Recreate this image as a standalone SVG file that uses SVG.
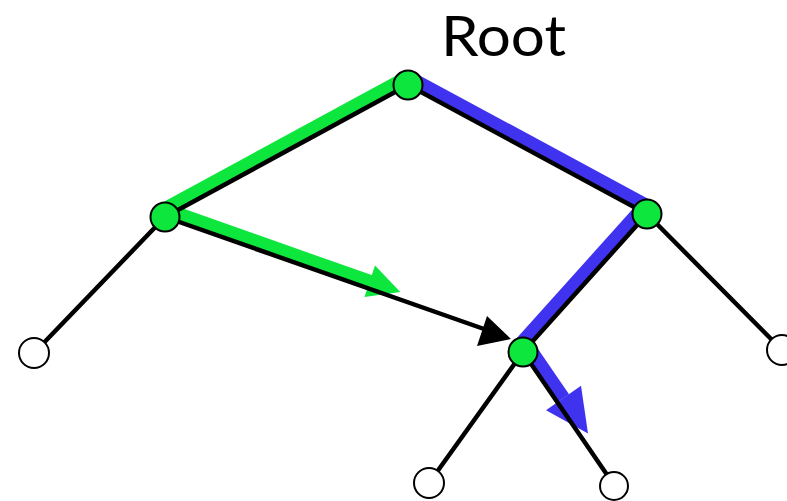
<svg xmlns="http://www.w3.org/2000/svg" width="787" height="501" viewBox="0 0 787 501">
<style>
.edge{stroke:#000;stroke-width:4.5;fill:none;stroke-linecap:round}
.green{stroke:#0de63c;stroke-width:13;fill:none;stroke-linejoin:round}
.blue{stroke:#3f33f0;stroke-width:13;fill:none;stroke-linejoin:round}
.inner{fill:#0de63c;stroke:#000;stroke-width:2}
.leaf{fill:#fff;stroke:#000;stroke-width:2}
.label{font-family:Lato,"Liberation Sans",sans-serif;font-size:57px;fill:#000}
</style>
<rect width="787" height="501" fill="#fff"/>
<g id="connectors">
  <polyline class="green" points="161.5,210.4 404.5,78.4"/>
  <polyline class="blue" points="411.5,78.4 645.4,204.7 517.4,347"/>
  <line class="green" x1="167.5" y1="210" x2="370.2" y2="281.5"/>
  <polygon fill="#0de63c" points="400.3,292 375,265.5 364.5,297"/>
  <line class="blue" x1="529.2" y1="347.8" x2="563.7" y2="398"/>
  <polygon fill="#3f33f0" points="588,433.6 581,385.8 546,410.2"/>
  <line class="edge" x1="408" y1="85" x2="165" y2="217"/>
  <line class="edge" x1="408" y1="85" x2="647" y2="214"/>
  <line class="edge" x1="165" y1="217" x2="34" y2="353"/>
  <line class="edge" x1="647" y1="214" x2="782" y2="350"/>
  <line class="edge" x1="647" y1="214" x2="523" y2="352"/>
  <line class="edge" x1="523" y1="352" x2="429" y2="483"/>
  <line class="edge" x1="523" y1="352" x2="614" y2="485"/>
  <line class="edge" x1="165" y1="217" x2="484" y2="329"/>
  <polygon fill="#000" points="511,339 487,316 477,346"/>
</g>
<g id="node-root"><circle class="inner" cx="408" cy="85" r="14.5"/><text class="label" x="441" y="56" textLength="125" lengthAdjust="spacingAndGlyphs">Root</text></g>
<g id="node-left"><circle class="inner" cx="165" cy="217" r="14.5"/></g>
<g id="node-right"><circle class="inner" cx="647" cy="214" r="14.5"/></g>
<g id="node-mid"><circle class="inner" cx="523" cy="352" r="14.5"/></g>
<g id="leaf-ll"><circle class="leaf" cx="34" cy="353" r="15"/></g>
<g id="leaf-rr"><circle class="leaf" cx="782" cy="350" r="15"/></g>
<g id="leaf-bl"><circle class="leaf" cx="429" cy="483" r="15"/></g>
<g id="leaf-br"><circle class="leaf" cx="614" cy="486" r="14"/></g>
</svg>
